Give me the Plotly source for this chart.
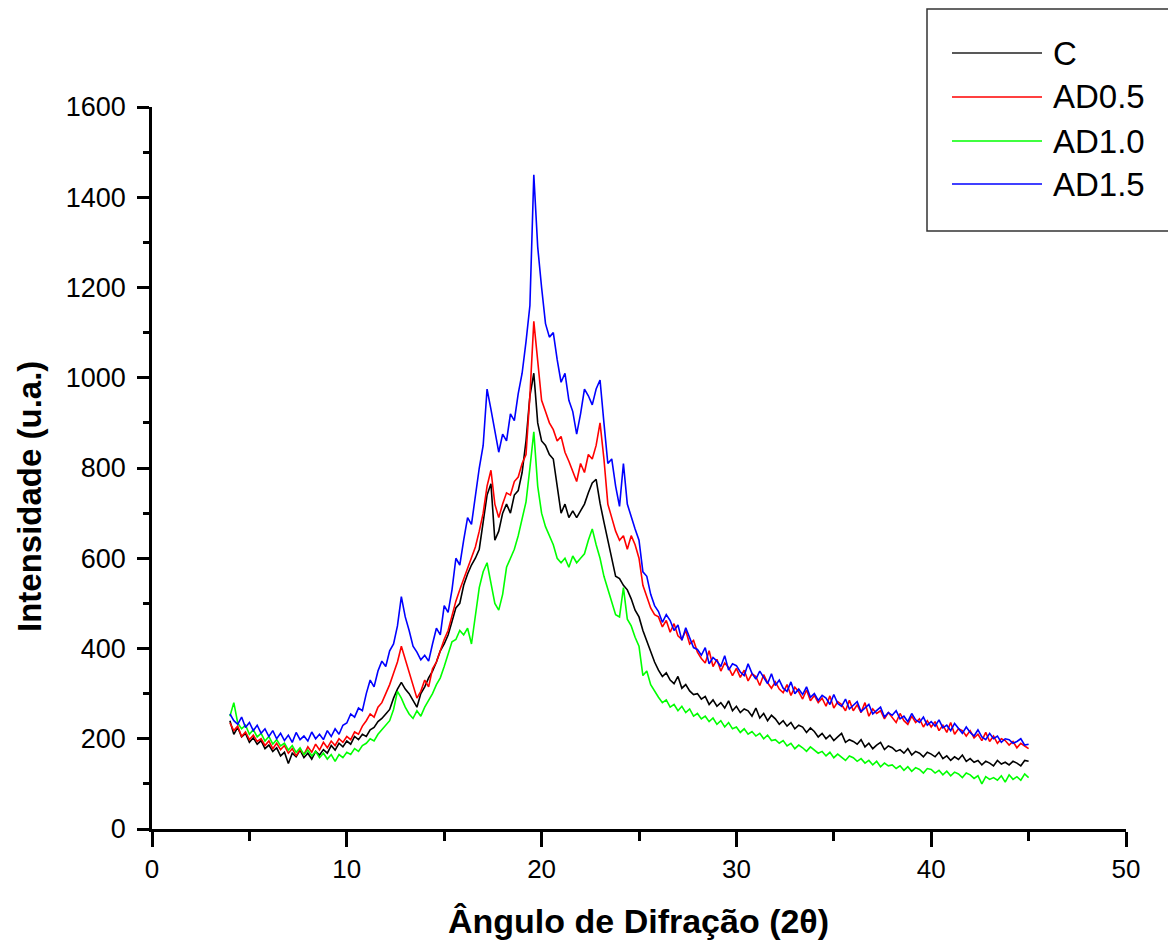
import numpy as np
import plotly.graph_objects as go

# 2-theta sampling grid (degrees), 4.0 .. 45.0
two_theta = np.round(np.arange(4.0, 45.0001, 0.2), 1)

C = [
    240, 210, 225, 204, 212, 192, 202, 188, 196, 178,
    186, 172, 180, 162, 170, 145, 168, 160, 175, 158,
    168, 155, 172, 164, 176, 168, 185, 175, 190, 182,
    195, 188, 205, 198, 210, 205, 220, 225, 238, 245,
    255, 265, 290, 310, 325, 310, 300, 285, 270, 300,
    315, 335, 350, 370, 395, 410, 430, 460, 490, 500,
    540, 565, 585, 600, 620, 680, 740, 765, 640, 660,
    700, 720, 700, 740, 750, 790, 860, 960, 1010, 900,
    860, 850, 830, 820, 760, 700, 720, 690, 705, 690,
    705, 720, 745, 767, 775, 722, 680, 640, 605, 560,
    555, 540, 530, 510, 485, 470, 440, 415, 395, 370,
    352, 338, 346, 330, 322, 338, 312, 320, 306, 298,
    300, 288, 294, 276, 286, 272, 280, 268, 284, 262,
    272, 258, 266, 262, 250, 268, 246, 256, 240, 252,
    244, 232, 240, 228, 236, 222, 230, 226, 214, 224,
    216, 204, 212, 200, 208, 196, 204, 212, 192, 198,
    194, 188, 198, 182, 190, 178, 186, 192, 176, 184,
    180, 172, 176, 168, 178, 164, 172, 168, 160, 170,
    166, 160, 170, 156, 162, 152, 160, 154, 164, 150,
    156, 148, 152, 142, 150, 146, 140, 152, 144, 148,
    142, 150, 146, 140, 152, 150,
]

AD05 = [
    235, 218, 228, 205, 215, 198, 208, 194, 200, 185,
    195, 178, 190, 176, 185, 168, 178, 162, 176, 165,
    182, 170, 188, 175, 192, 180, 195, 185, 200, 192,
    205, 198, 215, 210, 228, 240, 255, 248, 270, 280,
    300, 320, 345, 370, 405, 375, 345, 320, 290, 305,
    330, 315, 355, 370, 395, 420, 440, 475, 505, 530,
    555, 575, 600, 625, 660, 700, 760, 795, 720, 690,
    720, 745, 740, 770, 780, 810, 830, 960, 1125, 1040,
    950, 925, 900, 885, 860, 870, 835, 815, 790, 770,
    810, 790, 830, 820, 850, 900, 820, 720, 690, 660,
    640, 650, 620, 650, 630, 600, 540, 515, 490, 475,
    470, 448, 462, 436, 455, 428, 420, 440, 410, 418,
    392, 378, 368, 395, 360, 376, 350, 368, 358, 340,
    356, 336, 352, 328, 344, 338, 318, 342, 324, 312,
    326, 310, 302, 320, 296, 314, 304, 288, 308, 284,
    296, 280, 290, 272, 295, 268, 282, 276, 262, 285,
    262, 275, 258, 280, 250, 266, 256, 262, 244, 258,
    248, 236, 256, 240, 232, 250, 236, 244, 226, 240,
    226, 238, 218, 230, 214, 236, 210, 222, 218, 206,
    218, 202, 210, 196, 214, 194, 206, 190, 200, 196,
    186, 194, 180, 190, 184, 178,
]

AD10 = [
    250, 280, 235, 222, 230, 210, 220, 204, 212, 195,
    205, 188, 198, 184, 190, 175, 185, 170, 180, 165,
    175, 162, 172, 158, 168, 155, 165, 150, 165, 158,
    170, 165, 178, 172, 185, 190, 200, 195, 210, 220,
    228, 240, 265, 305, 290, 270, 255, 245, 262, 250,
    270, 285, 300, 320, 335, 360, 385, 415, 420, 440,
    430, 445, 410, 470, 535, 570, 590, 545, 500, 485,
    520, 580, 600, 620, 650, 690, 725, 800, 880, 760,
    700, 670, 650, 630, 600, 590, 600, 580, 605, 590,
    600, 610, 640, 665, 630, 600, 560, 530, 505, 475,
    470, 535, 465, 450, 425, 405, 340, 350, 320, 305,
    292, 280, 286, 270, 276, 262, 272, 258, 266, 250,
    256, 244, 250, 238, 246, 232, 240, 226, 236, 222,
    226, 214, 222, 210, 216, 206, 212, 200, 208, 196,
    198, 190, 196, 184, 190, 178, 186, 180, 172, 182,
    176, 168, 172, 162, 170, 158, 166, 160, 152, 162,
    158, 150, 156, 146, 152, 142, 150, 138, 146, 140,
    142, 134, 140, 130, 138, 128, 136, 132, 124, 134,
    132, 124, 130, 120, 128, 118, 126, 122, 114, 124,
    120, 112, 118, 100, 116, 110, 114, 108, 118, 104,
    120, 110, 116, 108, 122, 114,
]

AD15 = [
    255, 240, 232, 248, 225, 236, 218, 230, 212, 222,
    205, 218, 200, 212, 196, 208, 192, 214, 198, 206,
    195, 215, 200, 210, 198, 218, 205, 222, 210, 230,
    235, 255, 248, 268, 262, 300, 330, 315, 350, 372,
    360, 395, 410, 450, 515, 470, 440, 405, 392, 375,
    385, 372, 410, 445, 430, 495, 480, 530, 600, 585,
    640, 690, 675, 740, 800, 850, 975, 930, 880, 835,
    875, 860, 920, 905, 965, 1010, 1080, 1160, 1450, 1290,
    1200, 1120, 1090, 1100, 1040, 990, 1010, 950, 925, 875,
    920, 975, 960, 940, 975, 995, 900, 810, 820, 760,
    715, 810, 720, 690, 665, 640, 570, 560, 520, 495,
    482, 458, 475, 462, 440, 452, 418, 446, 425, 402,
    398, 385, 402, 366, 380, 372, 360, 384, 352, 366,
    362, 348, 340, 366, 345, 332, 350, 336, 322, 344,
    318, 330, 312, 305, 326, 300, 310, 298, 315, 292,
    300, 285, 296, 290, 276, 298, 278, 272, 288, 266,
    274, 282, 260, 268, 276, 255, 262, 270, 248, 258,
    252, 262, 244, 250, 238, 256, 242, 236, 248, 230,
    238, 228, 242, 224, 230, 218, 234, 222, 212, 226,
    214, 206, 220, 204, 198, 212, 200, 206, 192, 200,
    198, 190, 194, 200, 186, 188,
]

series_names = ["C", "AD0.5", "AD1.0", "AD1.5"]
series_values = [C, AD05, AD10, AD15]
series_colors = ["#000000", "#FF0000", "#00FF00", "#0000FF"]

x_ticks = [0, 10, 20, 30, 40, 50]
y_ticks = [0, 200, 400, 600, 800, 1000, 1200, 1400, 1600]

for v in series_values:
    assert len(v) == len(two_theta)

fig = go.Figure()
for name, vals, col in zip(series_names, series_values, series_colors):
    fig.add_trace(go.Scatter(x=two_theta, y=vals, mode="lines", name=name,
                             line=dict(color=col, width=1.6), showlegend=False))

FONT = "Liberation Sans, Arial, sans-serif"

# page body has an 8px margin, so the figure is 8px smaller and margins compensate
fig.update_layout(
    width=1168, height=934,
    margin=dict(l=144, r=50, t=99, b=113, autoexpand=False),
    paper_bgcolor="white", plot_bgcolor="white",
    showlegend=False,
    font=dict(family=FONT, color="#000000"),
)

fig.update_xaxes(
    range=[0, 50], tickvals=x_ticks, ticktext=[str(t) for t in x_ticks],
    showline=True, linecolor="#000000", linewidth=2.5,
    ticks="outside", ticklen=15, tickwidth=2.5, tickcolor="#000000",
    minor=dict(ticks="outside", ticklen=9, tickwidth=2.5, tickcolor="#000000", dtick=5, tick0=0, showgrid=False),
    showgrid=False, zeroline=False,
    tickfont=dict(family=FONT, size=26, color="#000000"),
)
fig.update_yaxes(
    range=[0, 1600], tickvals=y_ticks, ticktext=[str(t) for t in y_ticks],
    showline=True, linecolor="#000000", linewidth=2.5,
    ticks="outside", ticklen=12, tickwidth=2.5, tickcolor="#000000",
    minor=dict(ticks="outside", ticklen=6, tickwidth=2.5, tickcolor="#000000", dtick=100, tick0=0, showgrid=False),
    showgrid=False, zeroline=False, ticklabelstandoff=6,
    tickfont=dict(family=FONT, size=27, color="#000000"),
)

# pixel helpers (absolute page pixels -> paper coords of the plot area 152..1126 x 107..829)
def px2x(px):
    return (px - 152) / 974

def py2y(py):
    return (829 - py) / 722

# axis titles
fig.add_annotation(text="<b>Ângulo de Difração (2θ)</b>", xref="paper", yref="paper",
                   x=px2x(638), y=py2y(921), xanchor="center", yanchor="middle",
                   showarrow=False, font=dict(family=FONT, size=34, color="#000000"))
fig.add_annotation(text="<b>Intensidade (u.a.)</b>", xref="paper", yref="paper",
                   x=px2x(29), y=py2y(496), xanchor="center", yanchor="middle",
                   textangle=-90, showarrow=False, font=dict(family=FONT, size=33, color="#000000"))

# legend box drawn manually
fig.add_shape(type="rect", xref="paper", yref="paper",
              x0=px2x(927), x1=px2x(1172), y0=py2y(231), y1=py2y(9),
              line=dict(color="#333333", width=1.5), fillcolor="white", layer="above")
rows_py = [53, 97, 141, 184]
for name, col, rpy in zip(series_names, series_colors, rows_py):
    fig.add_shape(type="line", xref="paper", yref="paper",
                  x0=px2x(952), x1=px2x(1042), y0=py2y(rpy), y1=py2y(rpy),
                  line=dict(color=col if col != "#000000" else "#222222", width=1.5), layer="above")
    fig.add_annotation(text=name, xref="paper", yref="paper",
                       x=px2x(1051), y=py2y(rpy), xanchor="left", yanchor="middle",
                       showarrow=False, font=dict(family=FONT, size=33, color="#000000"))

fig.write_html("out.html")
